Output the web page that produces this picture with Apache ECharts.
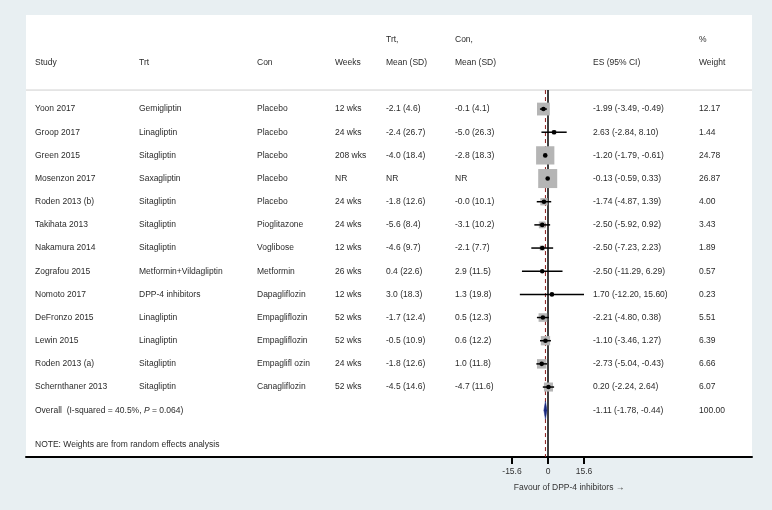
<!DOCTYPE html>
<html>
<head>
<meta charset="utf-8">
<script src="https://cdn.jsdelivr.net/npm/echarts@6/dist/echarts.min.js"></script>
<style>
html,body{margin:0;padding:0;background:#e8eff2;}
#chart{width:772px;height:510px;}
</style>
</head>
<body>
<div id="chart"></div>
<script>
var studies = ['Yoon 2017','Groop 2017','Green 2015','Mosenzon 2017','Roden 2013 (b)','Takihata 2013','Nakamura 2014','Zografou 2015','Nomoto 2017','DeFronzo 2015','Lewin 2015','Roden 2013 (a)','Schernthaner 2013'];
var trtDrug = ['Gemigliptin','Linagliptin','Sitagliptin','Saxagliptin','Sitagliptin','Sitagliptin','Sitagliptin','Metformin+Vildagliptin','DPP-4 inhibitors','Linagliptin','Linagliptin','Sitagliptin','Sitagliptin'];
var conDrug = ['Placebo','Placebo','Placebo','Placebo','Placebo','Pioglitazone','Voglibose','Metformin','Dapagliflozin','Empagliflozin','Empagliflozin','Empaglifl ozin','Canagliflozin'];
var weeks = ['12 wks','24 wks','208 wks','NR','24 wks','24 wks','12 wks','26 wks','12 wks','52 wks','52 wks','24 wks','52 wks'];
var trtMean = ['-2.1 (4.6)','-2.4 (26.7)','-4.0 (18.4)','NR','-1.8 (12.6)','-5.6 (8.4)','-4.6 (9.7)','0.4 (22.6)','3.0 (18.3)','-1.7 (12.4)','-0.5 (10.9)','-1.8 (12.6)','-4.5 (14.6)'];
var conMean = ['-0.1 (4.1)','-5.0 (26.3)','-2.8 (18.3)','NR','-0.0 (10.1)','-3.1 (10.2)','-2.1 (7.7)','2.9 (11.5)','1.3 (19.8)','0.5 (12.3)','0.6 (12.2)','1.0 (11.8)','-4.7 (11.6)'];
var es = [-1.99, 2.63, -1.20, -0.13, -1.74, -2.50, -2.50, -2.50, 1.70, -2.21, -1.10, -2.73, 0.20];
var lo = [-3.49, -2.84, -1.79, -0.59, -4.87, -5.92, -7.23, -11.29, -12.20, -4.80, -3.46, -5.04, -2.24];
var hi = [-0.49, 8.10, -0.61, 0.33, 1.39, 0.92, 2.23, 6.29, 15.60, 0.38, 1.27, -0.43, 2.64];
var weight = [12.17, 1.44, 24.78, 26.87, 4.00, 3.43, 1.89, 0.57, 0.23, 5.51, 6.39, 6.66, 6.07];
var overallES = -1.11, overallLo = -1.78, overallHi = -0.44, overallWeight = 100.00;
var overallLabel = 'Overall  (I-squared = 40.5%, ';
var overallP = '0.064';
var noteText = 'NOTE: Weights are from random effects analysis';
var headerTop = ['', '', '', '', 'Trt,', 'Con,', '', '%'];
var headerBottom = ['Study', 'Trt', 'Con', 'Weeks', 'Mean (SD)', 'Mean (SD)', 'ES (95% CI)', 'Weight'];
var xTicks = [-15.6, 0, 15.6];
var xTitle = 'Favour of DPP-4 inhibitors \u2192';

var colX = [35, 139, 257, 335, 386, 455, 593, 699];
var FONT = '"Liberation Sans", Arial, sans-serif';
var FS = 8.5;
var TXT = '#2b2b2b';
var n = studies.length;
var overallRow = n;
var noteRow = n + 1.5;

var fmt = function (v) { return v.toFixed(2); };
var esText = es.map(function (v, i) { return fmt(v) + ' (' + fmt(lo[i]) + ', ' + fmt(hi[i]) + ')'; });
var wText = weight.map(function (v) { return v.toFixed(2); });

var textData = [];
for (var c = 0; c < headerTop.length; c++) {
  if (headerTop[c]) textData.push([-3, c, headerTop[c]]);
  textData.push([-2, c, headerBottom[c]]);
}
for (var i = 0; i < n; i++) {
  var cols = [studies[i], trtDrug[i], conDrug[i], weeks[i], trtMean[i], conMean[i], esText[i], wText[i]];
  for (var c2 = 0; c2 < cols.length; c2++) textData.push([i, c2, cols[c2]]);
}
textData.push([overallRow, 6, fmt(overallES) + ' (' + fmt(overallLo) + ', ' + fmt(overallHi) + ')']);
textData.push([overallRow, 7, overallWeight.toFixed(2)]);
textData.push([overallRow, 0, '{n|' + overallLabel + '}{i|P}{n| = ' + overallP + ')}']);
textData.push([noteRow, 0, noteText]);

var studyData = es.map(function (v, i) { return [i, v, lo[i], hi[i], weight[i]]; });

var chart = echarts.init(document.getElementById('chart'), null, {renderer: 'canvas'});
var Y_MIN = -4.06, Y_MAX = 15.02, HEAD_LINE = -0.82;

chart.setOption({
  backgroundColor: '#e8eff2',
  animation: false,
  grid: {left: 26, right: 20, top: 15, bottom: 53, show: true, backgroundColor: '#ffffff', borderWidth: 0},
  xAxis: {
    type: 'value', min: -226.2, max: 88.4,
    splitLine: {show: false},
    axisLine: {show: true, onZero: false, lineStyle: {color: '#000', width: 2}},
    axisTick: {show: true, length: 7, customValues: xTicks, lineStyle: {color: '#000', width: 2}},
    axisLabel: {show: true, customValues: xTicks, margin: 10, fontSize: 8.5, fontFamily: FONT, color: '#333',
      formatter: function (v) { return v === 0 ? '0' : String(v); }}
  },
  yAxis: {type: 'value', inverse: true, min: Y_MIN, max: Y_MAX, show: false, splitLine: {show: false}},
  graphic: [{
    type: 'text', x: 569, y: 488,
    style: {text: xTitle, align: 'center', verticalAlign: 'middle', fill: '#333', font: FS + 'px ' + FONT}
  }],
  series: [
    {
      type: 'custom', name: 'lines', silent: true, clip: false,
      data: [[0]],
      renderItem: function (params, api) {
        var a = api.coord([overallES, HEAD_LINE]), b = api.coord([overallES, Y_MAX]);
        var z0 = api.coord([0, HEAD_LINE]), z1 = api.coord([0, Y_MAX]);
        var l = api.coord([-226.2, HEAD_LINE]), r = api.coord([88.4, HEAD_LINE]);
        return {type: 'group', children: [
          {type: 'line', shape: {x1: l[0], y1: l[1], x2: r[0], y2: r[1]}, style: {stroke: '#cfcfcf', lineWidth: 1}},
          {type: 'line', shape: {x1: z0[0], y1: z0[1], x2: z1[0], y2: z1[1]}, style: {stroke: '#000', lineWidth: 1.5}},
          {type: 'line', shape: {x1: a[0], y1: a[1], x2: b[0], y2: b[1]}, style: {stroke: '#8b1c1c', lineWidth: 1, lineDash: [4, 3]}}
        ]};
      }
    },
    {
      type: 'custom', name: 'studies', silent: true,
      data: studyData,
      encode: {x: [1, 2, 3], y: 0},
      renderItem: function (params, api) {
        var row = api.value(0);
        var p = api.coord([api.value(1), row]);
        var pl = api.coord([api.value(2), row]);
        var ph = api.coord([api.value(3), row]);
        var s = 3.67 * Math.sqrt(api.value(4));
        return {type: 'group', children: [
          {type: 'rect', shape: {x: p[0] - s / 2, y: p[1] - s / 2, width: s, height: s}, style: {fill: '#b5b5b5'}},
          {type: 'line', shape: {x1: pl[0], y1: pl[1], x2: ph[0], y2: ph[1]}, style: {stroke: '#000', lineWidth: 1.5}},
          {type: 'circle', shape: {cx: p[0], cy: p[1], r: 2.3}, style: {fill: '#000'}}
        ]};
      }
    },
    {
      type: 'custom', name: 'overall', silent: true,
      data: [[overallRow, overallES, overallLo, overallHi]],
      encode: {x: [1, 2, 3], y: 0},
      renderItem: function (params, api) {
        var row = api.value(0);
        var pts = [
          api.coord([api.value(2), row]),
          api.coord([api.value(1), row - 0.39]),
          api.coord([api.value(3), row]),
          api.coord([api.value(1), row + 0.39])
        ];
        return {type: 'polygon', shape: {points: pts}, style: {fill: '#1a2a80', stroke: '#1a2a80', lineWidth: 0.5}};
      }
    },
    {
      type: 'custom', name: 'table', silent: true, clip: false,
      data: textData,
      encode: {y: 0},
      renderItem: function (params, api) {
        var row = api.value(0);
        var col = api.value(1);
        var txt = textData[params.dataIndex][2];
        var y = api.coord([0, row])[1];
        return {type: 'text', x: colX[col], y: y, style: {
          text: txt, fill: TXT, font: FS + 'px ' + FONT, verticalAlign: 'middle', align: 'left',
          rich: {n: {fontSize: FS, fontFamily: FONT, fill: TXT}, i: {fontSize: FS, fontFamily: FONT, fontStyle: 'italic', fill: TXT}}
        }};
      }
    }
  ]
});
</script>
</body>
</html>
